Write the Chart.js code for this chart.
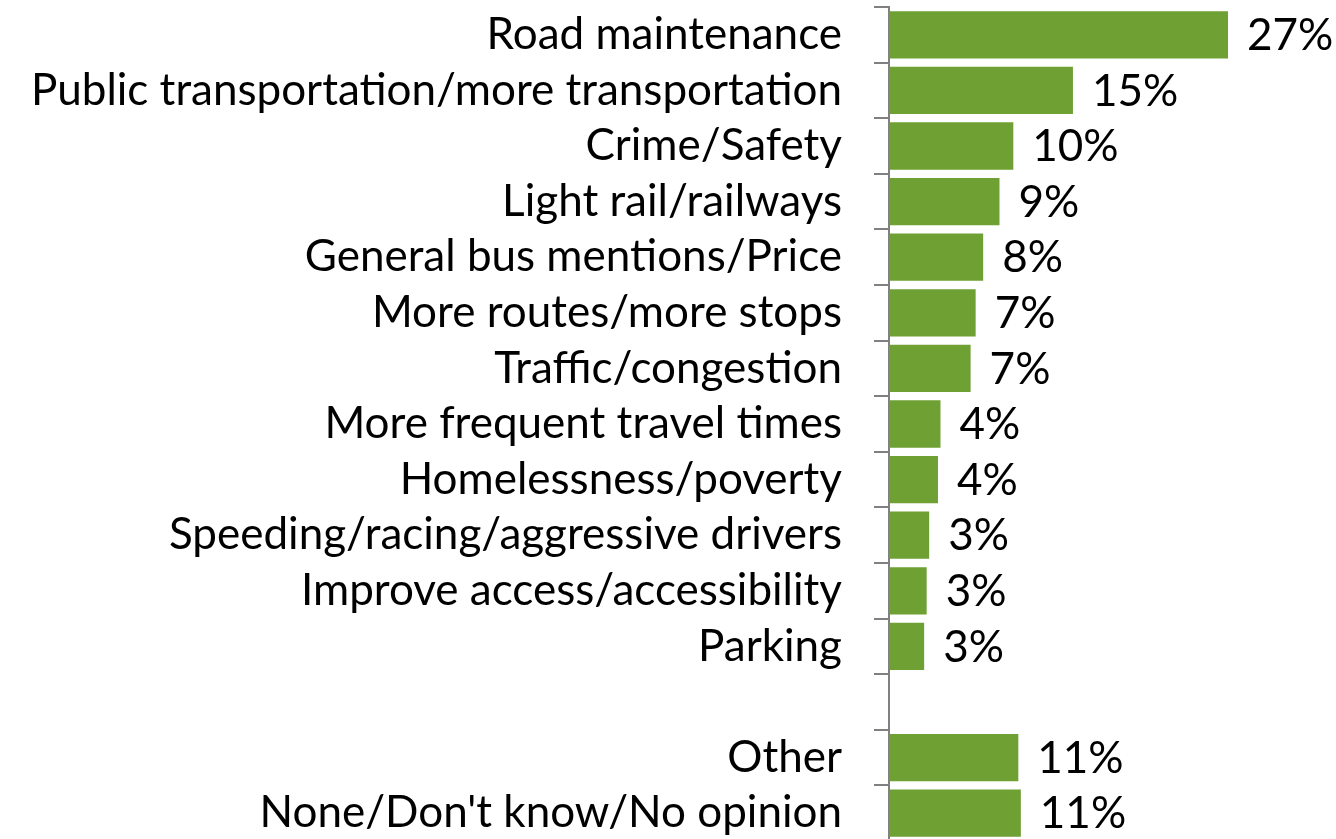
<!DOCTYPE html>
<html>
<head>
<meta charset="utf-8">
<script src="https://cdn.jsdelivr.net/npm/chart.js@4.4.1/dist/chart.umd.min.js"></script>
<style>
  html, body { margin: 0; padding: 0; background: #fff; overflow: hidden; }
  #wrap { position: relative; width: 1336px; height: 848px; }
</style>
</head>
<body>
<div id="wrap"><canvas id="myChart"></canvas></div>
<script>
const categories = [
  'Road maintenance',
  'Public transportation/more transportation',
  'Crime/Safety',
  'Light rail/railways',
  'General bus mentions/Price',
  'More routes/more stops',
  'Traffic/congestion',
  'More frequent travel times',
  'Homelessness/poverty',
  'Speeding/racing/aggressive drivers',
  'Improve access/accessibility',
  'Parking',
  '',
  'Other',
  "None/Don't know/No opinion"
];
// bar lengths (percent)
const values = [27, 14.65, 9.9, 8.8, 7.5, 6.9, 6.5, 4.1, 3.9, 3.2, 3.0, 2.8, null, 10.3, 10.5];
// printed labels
const valueLabels = ['27%', '15%', '10%', '9%', '8%', '7%', '7%', '4%', '4%', '3%', '3%', '3%', '', '11%', '11%'];

const barColor = '#6EA033';
const fontFamily = 'Lato, "Open Sans", sans-serif';
const fontSize = 44;

// draws the percentage to the right of each bar
const valueLabelPlugin = {
  id: 'valueLabels',
  afterDatasetsDraw(chart) {
    const c = chart.ctx;
    const meta = chart.getDatasetMeta(0);
    c.save();
    c.font = fontSize + 'px ' + fontFamily;
    c.fillStyle = '#000';
    c.textAlign = 'left';
    c.textBaseline = 'middle';
    meta.data.forEach((bar, i) => {
      if (values[i] == null) return;
      c.fillText(valueLabels[i], bar.x + 19, bar.y + 1);
    });
    c.restore();
  }
};

new Chart(document.getElementById('myChart'), {
  type: 'bar',
  data: {
    labels: categories,
    datasets: [{
      data: values,
      backgroundColor: barColor,
      borderWidth: 0,
      barPercentage: 0.85,
      categoryPercentage: 1
    }]
  },
  options: {
    indexAxis: 'y',
    responsive: true,
    maintainAspectRatio: false,
    animation: false,
    layout: { padding: { top: 7, bottom: 7, left: 0, right: 0 } },
    plugins: {
      legend: { display: false },
      tooltip: { enabled: false }
    },
    scales: {
      x: {
        display: false,
        min: 0,
        max: 35.6
      },
      y: {
        position: 'left',
        afterFit(scale) {
          scale.width = 889;
          scale.paddingTop = 0;
          scale.paddingBottom = 0;
        },
        grid: {
          offset: true,
          drawOnChartArea: false,
          drawTicks: true,
          tickLength: 15,
          color: '#808080',
          lineWidth: 2
        },
        border: { display: true, color: '#808080', width: 2 },
        ticks: {
          autoSkip: false,
          color: '#000',
          padding: 32,
          font: { family: fontFamily, size: fontSize }
        }
      }
    }
  },
  plugins: [valueLabelPlugin]
});
</script>
</body>
</html>
